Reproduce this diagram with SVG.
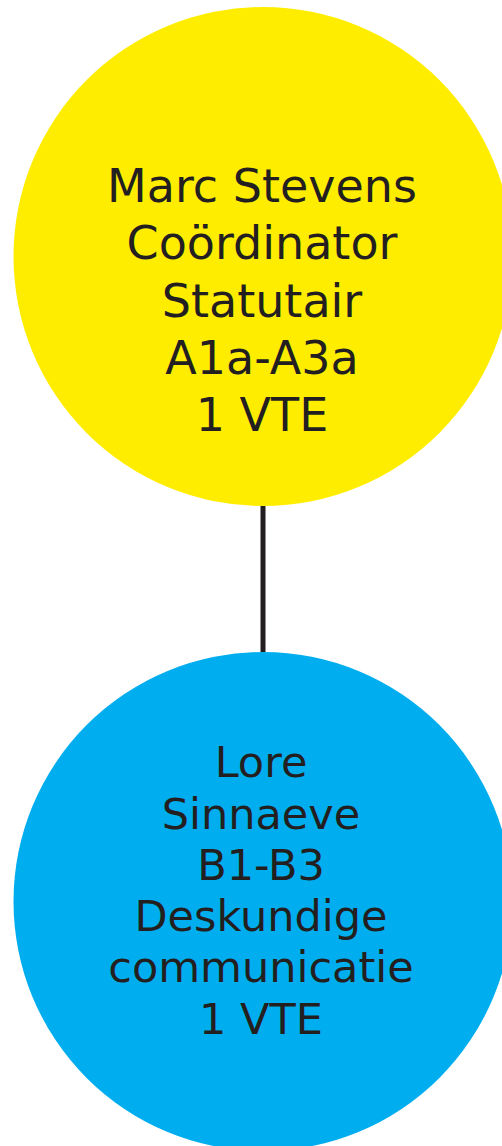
<svg xmlns="http://www.w3.org/2000/svg" width="502" height="1146" viewBox="0 0 502 1146">
<style>
.lbl{font-family:"DejaVu Sans","Liberation Sans",sans-serif;fill:#231f20;text-anchor:middle}
.y{font-size:46px}
.b{font-size:43px}
</style>
<rect width="502" height="1146" fill="#ffffff"/>
<g id="connectors">
<line x1="263" y1="500" x2="263" y2="660" stroke="#231f20" stroke-width="5"/>
</g>
<g id="node-marc">
<circle cx="263" cy="256.5" r="249.5" fill="#ffed00"/>
<text class="lbl y" x="262" y="202">Marc Stevens</text>
<text class="lbl y" x="262" y="259">Coördinator</text>
<text class="lbl y" x="262" y="317">Statutair</text>
<text class="lbl y" x="262" y="374">A1a-A3a</text>
<text class="lbl y" x="262" y="431">1 VTE</text>
</g>
<g id="node-lore">
<circle cx="263" cy="901.5" r="249.5" fill="#00aeef"/>
<text class="lbl b" x="261" y="777">Lore</text>
<text class="lbl b" x="261" y="829">Sinnaeve</text>
<text class="lbl b" x="261" y="880">B1-B3</text>
<text class="lbl b" x="261" y="931">Deskundige</text>
<text class="lbl b" x="261" y="982">communicatie</text>
<text class="lbl b" x="261" y="1034">1 VTE</text>
</g>
</svg>
